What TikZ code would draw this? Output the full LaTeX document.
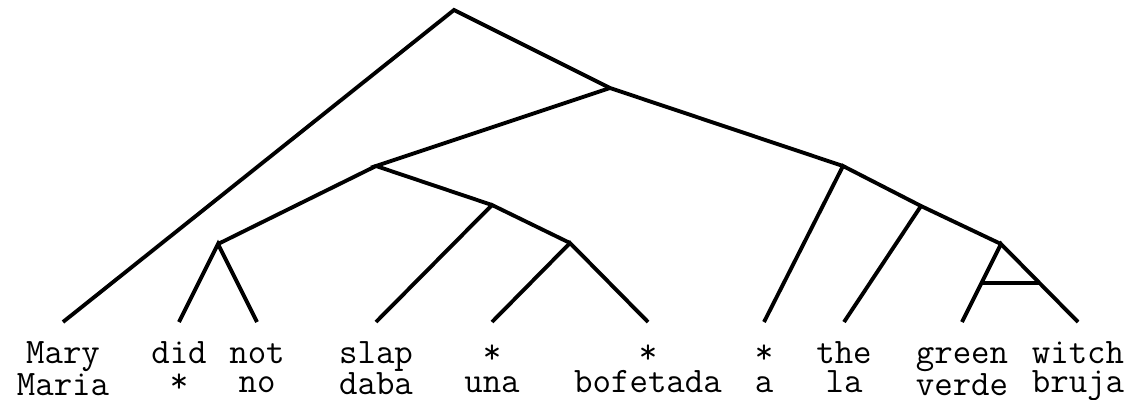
\documentclass[tikz,border=0pt]{standalone}
\usetikzlibrary{calc}
\newcommand\tall{\vphantom{d}}
\tikzset{
  branch/.style={line width=2.2pt},
  leaf/.style={font=\ttfamily\fontsize{20.4}{16.6}\selectfont, align=center,
    anchor=north, inner sep=0pt},
  top/.style={yshift=0.38cm}
}
\begin{document}
\begin{tikzpicture}[x=0.02cm,y=-0.02cm]
      \useasboundingbox (0,0) rectangle (1128,399);
      % inner points of the tree
      \coordinate (root) at (454,10);
      \coordinate (a) at (610,88);
      \coordinate (b) at (376,166);
      \coordinate (c) at (843,166);
      \coordinate (d) at (218,244);
      \coordinate (e) at (492,205);
      \coordinate (f) at (570,243);
      \coordinate (g) at (921,206);
      \coordinate (h) at (1001,244);
      % words
      \node [leaf] (mary) at (63,341) {\tall Mary\\Maria};
      \node [leaf] (did) at (179,341) {\tall did\\*};
      \node [leaf] (not) at (257,341) {\tall not\\no};
      \node [leaf] (slap) at (376,341) {\tall slap\\daba};
      \node [leaf] (una) at (492,341) {\tall *\\una};
      \node [leaf] (bofetada) at (648,341) {\tall *\\bofetada};
      \node [leaf] (to) at (764,341) {\tall *\\a};
      \node [leaf] (the) at (844,341) {\tall the\\la};
      \node [leaf] (green) at (962,341) {\tall green\\verde};
      \node [leaf] (witch) at (1078,341) {\tall witch\\bruja};
      % branches
      \draw [branch] ([top]mary.north) to (root) to (a) to (c);
      \draw [branch] (a) to (b) to (e);
      \draw [branch] (b) to (d);
      \draw [branch] ([top]did.north) to (d) to ([top]not.north);
      \draw [branch] ([top]slap.north) to (e) to (f);
      \draw [branch] ([top]una.north) to (f) to ([top]bofetada.north);
      \draw [branch] ([top]to.north) to (c) to (g) to (h);
      \draw [branch] ([top]the.north) to (g);
      \draw [branch] ([top]green.north) to (h) to ([top]witch.north);
      \draw [branch] ($(h)!0.5!([top]green.north)$) to ($(h)!0.5!([top]witch.north)$);
\end{tikzpicture}
\end{document}
